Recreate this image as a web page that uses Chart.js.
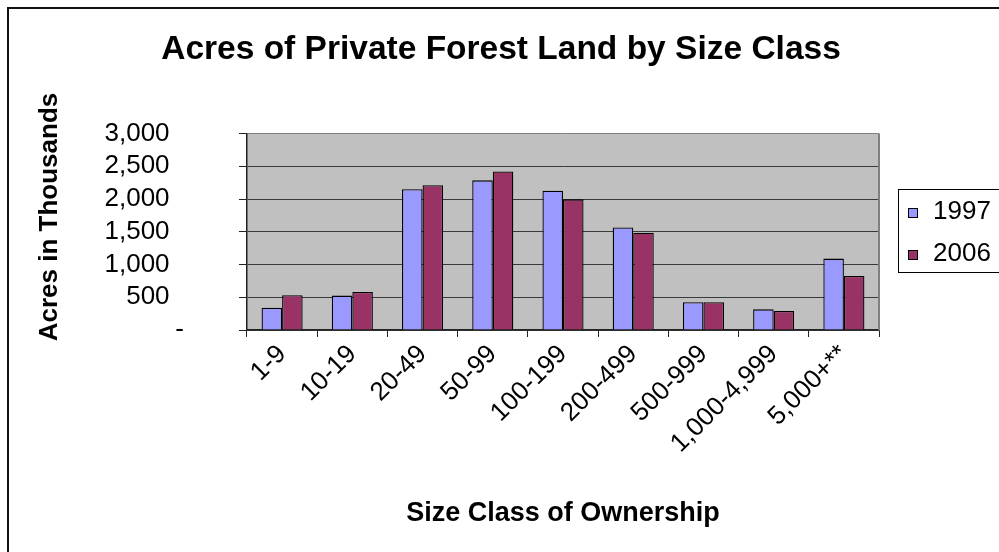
<!DOCTYPE html>
<html>
<head>
<meta charset="utf-8">
<title>Acres of Private Forest Land by Size Class</title>
<script src="https://cdn.jsdelivr.net/npm/chart.js@4"></script>
<style>
    html, body { margin: 0; padding: 0; background: #fff; overflow: hidden; }
    #grafico { display: block; }
</style>
</head>
<body>
<canvas id="grafico" width="1004" height="552"></canvas>
<script>
// Size classes (acres) and acreage in thousands for each survey year
const classes = ['1-9', '10-19', '20-49', '50-99', '100-199', '200-499', '500-999', '1,000-4,999', '5,000+**'];
const anos = ['1997', '2006'];
const acres1997 = [340, 525, 2150, 2285, 2125, 1565, 425, 315, 1090];
const acres2006 = [530, 580, 2210, 2420, 1995, 1485, 425, 290, 825];
const ticksY = [0, 500, 1000, 1500, 2000, 2500, 3000];

const titulo = 'Acres of Private Forest Land by Size Class';
const tituloY = 'Acres in Thousands';
const tituloX = 'Size Class of Ownership';

const fonte = '"Liberation Sans", Arial, sans-serif';
const cores = ['#9999FF', '#993366'];

// Frame, plot background, chart title, y title and the boxed legend
const moldura = {
    id: 'moldura',
    beforeDraw(chart) {
        const ctx = chart.ctx;
        const a = chart.chartArea;
        ctx.save();
        ctx.fillStyle = '#fff';
        ctx.fillRect(0, 0, chart.width, chart.height);
        ctx.strokeStyle = '#111';
        ctx.lineWidth = 2;
        ctx.strokeRect(8, 8, chart.width + 20, chart.height + 20);
        ctx.fillStyle = '#C0C0C0';
        ctx.fillRect(a.left, a.top, a.right - a.left, a.bottom - a.top);

        ctx.fillStyle = '#000';
        ctx.textAlign = 'center';
        ctx.textBaseline = 'middle';
        ctx.font = 'bold 33.5px ' + fonte;
        ctx.fillText(titulo, 501, 50);

        ctx.font = 'bold 26px ' + fonte;
        ctx.translate(50, 217);
        ctx.rotate(-Math.PI / 2);
        ctx.fillText(tituloY, 0, 0);
        ctx.restore();
    },
    beforeDatasetsDraw(chart) {
        const ctx = chart.ctx;
        const a = chart.chartArea;
        ctx.save();
        ctx.strokeStyle = '#808080';
        ctx.lineWidth = 2;
        ctx.beginPath();
        ctx.moveTo(a.right, a.top);
        ctx.lineTo(a.right, a.bottom);
        ctx.stroke();
        ctx.restore();
    },
    afterDraw(chart) {
        const ctx = chart.ctx;
        const a = chart.chartArea;
        const x0 = a.right + 19;
        ctx.save();
        ctx.strokeStyle = '#000';
        ctx.lineWidth = 1;
        ctx.strokeRect(x0 + 0.5, 189.5, 200, 83);
        ctx.font = '26px ' + fonte;
        ctx.textBaseline = 'middle';
        chart.data.datasets.forEach((ds, i) => {
            const y = 212 + i * 42;
            ctx.fillStyle = ds.backgroundColor;
            ctx.fillRect(x0 + 10, y - 4, 10, 10);
            ctx.strokeRect(x0 + 10.5, y - 3.5, 9, 9);
            ctx.fillStyle = '#000';
            ctx.fillText(ds.label, x0 + 35, y);
        });
        ctx.restore();
    }
};

const ctx = document.getElementById('grafico').getContext('2d');
const chartAcres = new Chart(ctx, {
    type: 'bar',
    data: {
        labels: classes,
        datasets: [{
            label: anos[0],
            data: acres1997,
            backgroundColor: cores[0],
            borderColor: '#000',
            borderWidth: 1.3
        }, {
            label: anos[1],
            data: acres2006,
            backgroundColor: cores[1],
            borderColor: '#000',
            borderWidth: 1.3
        }]
    },
    options: {
        responsive: false,
        animation: false,
        events: [],
        categoryPercentage: 0.585,
        barPercentage: 1,
        layout: { padding: { left: 0, right: 125, top: 133.5, bottom: 0 } },
        plugins: {
            legend: { display: false },
            tooltip: { enabled: false },
            title: { display: false }
        },
        scales: {
            x: {
                afterFit(scale) { scale.height = 222; },
                grid: {
                    drawOnChartArea: false,
                    offset: true,
                    tickLength: 7,
                    tickColor: '#222'
                },
                border: { color: '#222', width: 1.5 },
                ticks: {
                    autoSkip: false,
                    minRotation: 45,
                    maxRotation: 45,
                    padding: 2,
                    color: '#000',
                    font: { family: fonte, size: 26 }
                },
                title: {
                    display: true,
                    text: tituloX,
                    color: '#000',
                    font: { family: fonte, size: 27, weight: 'bold' },
                    padding: { top: 0, bottom: 22 }
                }
            },
            y: {
                min: 0,
                max: 3000,
                afterFit(scale) { scale.width = 247; },
                afterBuildTicks(scale) {
                    scale.ticks = ticksY.map(v => ({ value: v }));
                },
                grid: {
                    color: c => c.tick && c.tick.value === 3000 ? '#808080' : '#3a3a3a',
                    lineWidth: 1,
                    tickLength: 8,
                    tickColor: '#222'
                },
                border: { color: '#222', width: 1.5 },
                ticks: {
                    autoSkip: false,
                    padding: 55,
                    color: '#000',
                    font: { family: fonte, size: 26 },
                    callback: v => v === 0 ? '-' : v.toLocaleString('en-US') + '  '
                },
                title: { display: false }
            }
        }
    },
    plugins: [moldura]
});
</script>
</body>
</html>
